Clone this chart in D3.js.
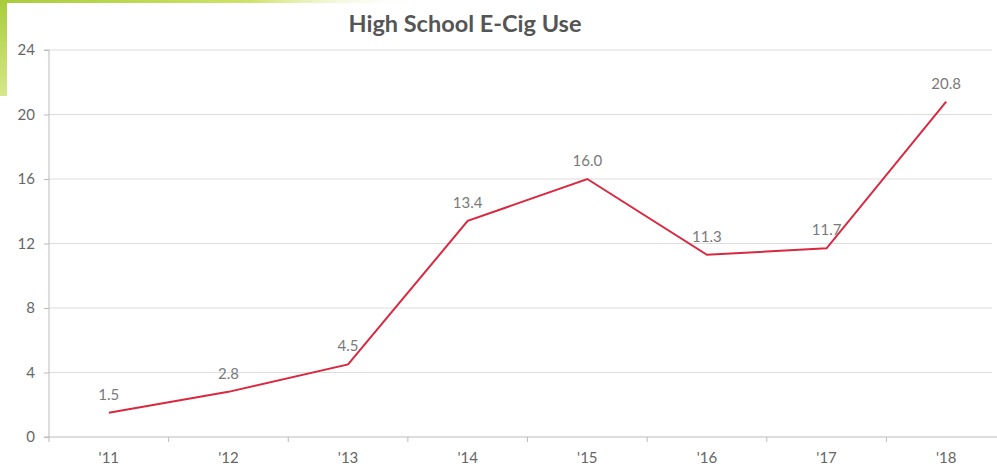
<!DOCTYPE html>
<meta charset="utf-8">
<script src="https://d3js.org/d3.v7.min.js"></script>
<style>
body { margin: 0; background: #fff; }
text { font-family: Lato, "Open Sans", sans-serif; }
.axis text { fill: #666; font-size: 15px; }
.axis path, .axis line { stroke: #bbb; }
.grid line { stroke: #ddd; }
</style>
<body></body>
<script>
var years = ["'11", "'12", "'13", "'14", "'15", "'16", "'17", "'18"];
var values = [1.5, 2.8, 4.5, 13.4, 16.0, 11.3, 11.7, 20.8];
var yTicks = [0, 4, 8, 12, 16, 20, 24];

var data = years.map(function(y, i) { return {year: y, value: values[i]}; });

var width = 997, height = 468;
var plotLeft = 49, plotTop = 50, plotBottom = 437;

var svg = d3.select("body").append("svg")
    .attr("width", width)
    .attr("height", height);

// corner decoration
var defs = svg.append("defs");
var g1 = defs.append("linearGradient").attr("id", "topbar");
g1.append("stop").attr("offset", "0%").attr("stop-color", "#a8cc3a");
g1.append("stop").attr("offset", "60%").attr("stop-color", "#cfe36a");
g1.append("stop").attr("offset", "100%").attr("stop-color", "#fff").attr("stop-opacity", 0);
var g2 = defs.append("linearGradient").attr("id", "leftbar")
    .attr("x1", 0).attr("y1", 0).attr("x2", 0).attr("y2", 1);
g2.append("stop").attr("offset", "0%").attr("stop-color", "#a8cc3a");
g2.append("stop").attr("offset", "100%").attr("stop-color", "#d6e88a");
svg.append("rect").attr("x", 0).attr("y", 0).attr("width", 420).attr("height", 3).attr("fill", "url(#topbar)");
svg.append("rect").attr("x", 0).attr("y", 0).attr("width", 7).attr("height", 96).attr("fill", "url(#leftbar)");

var x = d3.scaleBand().domain(years).range([plotLeft, 1006]);
var y = d3.scaleLinear().domain([0, 24]).range([plotBottom, plotTop]);

svg.append("g").attr("class", "grid")
  .selectAll("line").data(yTicks.slice(1)).enter().append("line")
    .attr("x1", plotLeft).attr("x2", 992)
    .attr("y1", function(d) { return y(d); })
    .attr("y2", function(d) { return y(d); });

svg.append("g").attr("class", "axis")
    .attr("transform", "translate(" + plotLeft + ",0)")
    .call(d3.axisLeft(y).tickValues(yTicks).tickSize(5).tickPadding(9))
    .call(function(g) { g.select(".domain").attr("d", "M-5," + plotTop + "H0V" + plotBottom + "H-5"); });

var xAxis = svg.append("g").attr("class", "axis")
    .attr("transform", "translate(0," + plotBottom + ")");
xAxis.append("line").attr("x1", plotLeft).attr("x2", 997).attr("stroke", "#bbb");
xAxis.selectAll(".tk").data(years).enter().append("line")
    .attr("x1", function(d) { return x(d); })
    .attr("x2", function(d) { return x(d); })
    .attr("y1", 0).attr("y2", 5).attr("stroke", "#bbb");
xAxis.selectAll("text").data(years).enter().append("text")
    .attr("x", function(d) { return x(d) + x.bandwidth() / 2; })
    .attr("y", 26)
    .attr("text-anchor", "middle")
    .text(function(d) { return d; });

var line = d3.line()
    .x(function(d) { return x(d.year) + x.bandwidth() / 2; })
    .y(function(d) { return y(d.value); });

svg.append("path").datum(data)
    .attr("d", line)
    .attr("fill", "none")
    .attr("stroke", "#d9283f")
    .attr("stroke-width", 2);

svg.selectAll(".lbl").data(data).enter().append("text")
    .attr("class", "lbl")
    .attr("x", function(d) { return x(d.year) + x.bandwidth() / 2; })
    .attr("y", function(d) { return y(d.value) - 13; })
    .attr("text-anchor", "middle")
    .attr("fill", "#7a7a7a")
    .attr("font-size", 15)
    .text(function(d) { return d.value.toFixed(1); });

svg.append("text")
    .attr("x", 465).attr("y", 32)
    .attr("text-anchor", "middle")
    .attr("fill", "#555")
    .attr("font-size", 23.5)
    .attr("font-weight", "bold")
    .text("High School E-Cig Use");
</script>
